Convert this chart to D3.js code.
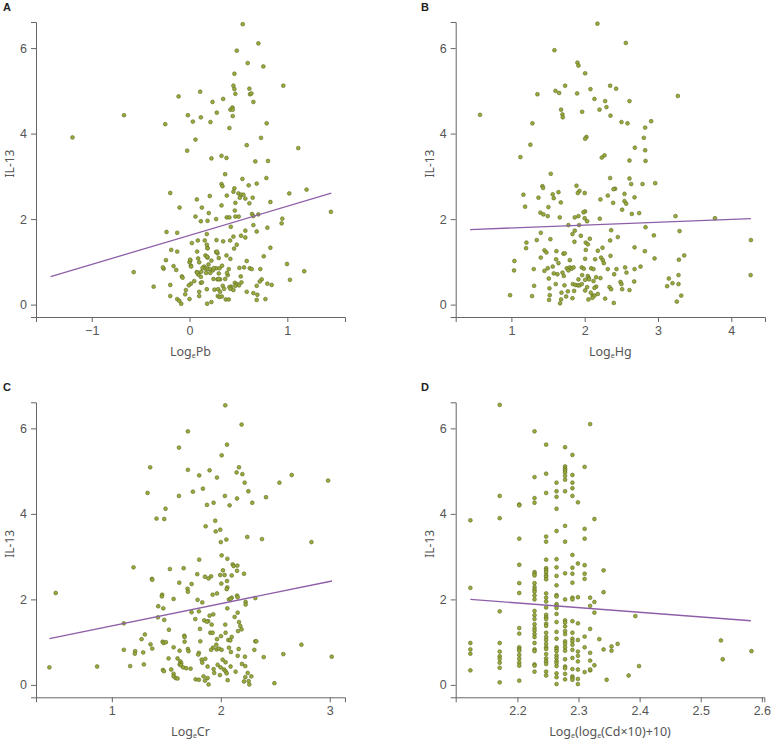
<!DOCTYPE html>
<html><head><meta charset="utf-8">
<script src="https://cdn.jsdelivr.net/npm/d3@7"></script>
<style>
html,body{margin:0;padding:0;background:#fff;}
svg{display:block;}
.tick text{font-family:"Liberation Sans",Arial,sans-serif;font-size:12.5px;fill:#555;}
.domain,.tick line{stroke:#666;}
</style></head>
<body>
<svg id="c" width="771" height="740"></svg>
<script>
// ---- Data: Panel A (Log_e Pb vs IL-13)
const pbX = [0.544,0.704,0.483,0.595,0.755,0.459,0.959,0.449,0.459,0.612,0.469,0.619,0.633,0.109,-0.112,0.344,0.235,0.653,0.439,0.418,0.442,0.279,-0.670,-0.017,0.116,0.442,0.034,-0.248,0.214,0.789,0.408,-1.197,0.061,0.731,0.585,1.112,-0.024,0.224,0.327,0.378,0.673,0.803,0.364,0.541,0.786,0.327,0.337,0.687,0.605,0.459,0.449,-0.197,0.500,0.527,0.551,0.381,0.207,1.020,1.197,0.075,0.514,0.571,0.646,0.469,0.612,0.827,0.327,-0.102,0.126,0.463,0.197,0.639,0.704,0.061,0.381,0.408,0.469,0.503,0.653,0.116,0.184,0.272,0.949,0.942,0.653,0.422,0.796,-0.235,-0.126,0.177,0.571,0.687,0.449,0.527,0.571,0.024,0.085,0.156,0.276,0.344,0.415,0.177,0.483,-0.187,-0.126,0.184,0.456,0.827,0.078,0.272,0.286,0.163,0.378,0.759,0.088,0.184,0.299,0.418,-0.241,0.007,0.000,0.099,0.224,0.585,0.997,0.014,-0.163,0.150,0.194,0.333,-0.265,-0.272,-0.136,0.133,0.163,0.184,0.207,0.272,0.401,0.510,0.558,0.616,0.636,0.724,-0.571,0.075,0.088,0.170,0.238,1.173,0.299,-0.078,-0.071,0.245,0.286,0.313,0.524,0.391,0.116,0.738,1.027,0.048,0.014,0.116,0.531,0.718,0.796,0.840,-0.197,-0.007,-0.367,0.463,0.486,0.469,0.507,0.425,0.408,0.418,0.449,0.340,0.354,0.687,0.177,0.255,0.293,-0.037,0.313,0.585,0.653,-0.044,0.099,-0.197,0.099,0.289,0.306,0.330,0.694,-0.126,-0.105,0.000,0.371,0.401,0.687,0.776,-0.085,0.180,0.224,1.446,0.092,0.076,0.120,0.212,0.246,0.307,0.383,0.365,0.297,0.127,0.007,0.017,0.280,0.184,0.181];
const pbY = [6.56,6.11,5.94,5.65,5.57,5.40,5.12,5.12,5.04,5.05,4.93,4.92,4.94,4.98,4.87,4.81,4.74,4.74,4.61,4.56,4.56,4.49,4.43,4.43,4.38,4.41,4.28,4.22,4.27,4.24,4.13,3.91,3.86,3.90,3.73,3.66,3.60,3.42,3.48,3.43,3.35,3.36,3.05,2.94,2.96,2.82,2.77,2.83,2.79,2.72,2.64,2.61,2.60,2.57,2.57,2.55,2.54,2.60,2.69,2.46,2.50,2.48,2.50,2.38,2.37,2.40,2.32,2.27,2.27,2.20,2.14,2.12,2.11,2.06,2.04,2.04,2.06,2.06,2.07,1.95,1.96,2.00,2.01,1.90,1.86,1.82,1.80,1.70,1.68,1.65,1.73,1.71,1.59,1.61,1.57,1.44,1.50,1.50,1.51,1.48,1.50,1.40,1.40,1.28,1.24,1.32,1.31,1.33,1.24,1.23,1.20,1.15,1.15,1.13,1.08,1.10,1.09,1.07,1.04,1.03,0.99,0.99,1.03,1.02,0.95,0.91,0.90,0.89,0.94,0.91,0.84,0.87,0.81,0.86,0.84,0.84,0.83,0.85,0.83,0.86,0.87,0.85,0.83,0.83,0.76,0.76,0.73,0.74,0.80,0.78,0.73,0.66,0.63,0.60,0.59,0.59,0.66,0.69,0.65,0.59,0.58,0.55,0.49,0.51,0.52,0.54,0.49,0.46,0.46,0.45,0.42,0.51,0.48,0.44,0.45,0.42,0.41,0.37,0.34,0.44,0.37,0.44,0.36,0.35,0.36,0.34,0.30,0.30,0.27,0.24,0.30,0.20,0.20,0.20,0.18,0.19,0.23,0.13,0.09,0.13,0.12,0.12,0.11,0.13,0.02,0.02,0.06,2.17,0.70,0.75,0.77,0.74,0.85,0.85,0.74,0.60,0.60,0.52,1.05,0.89,1.24,1.32,1.12];
const pbFit = {x0:-1.42, y0:0.655, x1:1.45, y1:2.605};

// ---- Data: Panel B (Log_e Hg vs IL-13)
const hgX = [2.174,2.561,1.587,1.901,1.915,2.006,1.733,2.347,2.429,2.079,1.601,1.651,1.897,1.355,3.271,2.133,2.611,2.279,2.297,2.202,1.678,1.696,1.701,1.965,2.352,0.572,2.907,2.502,2.584,1.287,2.825,2.024,2.006,2.807,1.259,2.684,2.825,2.270,2.233,1.123,2.611,2.830,1.537,2.347,2.611,2.962,2.789,2.634,1.423,1.432,1.888,2.415,2.393,1.929,1.906,1.642,2.000,1.164,1.564,2.543,2.315,1.578,1.369,2.680,2.215,2.543,2.566,1.674,2.388,1.505,1.187,2.511,2.005,1.983,1.396,1.437,2.643,2.743,1.496,1.915,1.660,1.865,3.239,2.000,2.206,3.777,2.033,1.924,1.778,2.830,1.865,2.361,3.294,1.401,1.833,2.944,1.947,2.452,2.070,1.532,1.346,2.347,4.268,1.860,2.015,2.042,1.205,1.200,2.243,2.680,2.179,2.015,1.451,1.478,1.614,2.821,1.710,1.728,3.358,2.352,1.401,2.224,2.953,2.142,2.247,2.006,3.285,1.610,1.041,1.797,1.642,2.261,2.762,1.756,1.797,1.820,1.847,1.960,1.988,2.088,2.120,1.564,1.496,1.305,2.315,2.434,2.552,2.680,1.036,1.451,1.697,1.778,1.578,2.570,1.628,1.715,1.965,2.042,3.280,2.402,4.264,1.510,2.056,2.156,2.215,1.915,3.148,2.005,2.060,2.120,2.675,2.488,2.502,3.198,1.605,1.724,1.838,1.874,1.906,1.929,1.960,3.280,2.156,1.310,3.125,1.519,2.133,2.033,2.338,2.611,2.511,2.361,2.006,1.856,1.770,2.083,1.683,2.110,2.133,0.982,1.282,1.523,1.747,3.317,2.179,1.833,2.051,2.106,2.279,1.514,1.678,3.257,1.664,2.397];
const hgY = [6.57,6.12,5.95,5.66,5.59,5.41,5.12,5.12,5.05,5.04,5.00,4.95,4.94,4.92,4.88,4.81,4.76,4.76,4.62,4.56,4.56,4.45,4.38,4.51,4.42,4.44,4.29,4.27,4.24,4.24,4.14,3.92,3.88,3.90,3.74,3.67,3.61,3.49,3.44,3.45,3.37,3.36,3.06,2.96,2.95,2.84,2.82,2.82,2.77,2.73,2.78,2.71,2.70,2.66,2.61,2.63,2.61,2.57,2.58,2.59,2.55,2.49,2.50,2.51,2.46,2.42,2.36,2.39,2.38,2.28,2.29,2.22,2.18,2.16,2.15,2.11,2.12,2.14,2.07,2.07,2.04,2.04,2.07,2.02,2.01,2.02,1.95,1.86,1.86,1.81,1.73,1.74,1.72,1.68,1.65,1.62,1.61,1.58,1.54,1.53,1.51,1.50,1.51,1.47,1.45,1.41,1.45,1.32,1.33,1.34,1.26,1.28,1.27,1.22,1.25,1.25,1.19,1.20,1.15,1.14,1.10,1.10,1.08,1.06,1.04,1.07,1.05,1.06,1.02,1.04,0.97,0.97,0.89,0.85,0.87,0.84,0.87,0.87,0.84,0.85,0.83,0.89,0.85,0.83,0.83,0.83,0.87,0.83,0.80,0.79,0.75,0.80,0.73,0.75,0.71,0.67,0.69,0.67,0.69,0.71,0.69,0.61,0.62,0.64,0.62,0.59,0.61,0.58,0.59,0.55,0.54,0.53,0.48,0.50,0.48,0.45,0.48,0.46,0.45,0.45,0.48,0.48,0.42,0.44,0.43,0.38,0.39,0.41,0.41,0.34,0.36,0.36,0.33,0.32,0.31,0.28,0.28,0.21,0.21,0.22,0.20,0.22,0.19,0.21,0.25,0.15,0.12,0.16,0.14,0.11,0.12,0.07,0.03,0.04];
const hgFit = {x0:0.436, y0:1.755, x1:4.268, y1:2.01};

// ---- Data: Panel C (Log_e Cr vs IL-13)
const crX = [2.041,2.191,1.698,2.057,1.616,2.008,1.352,2.167,1.698,1.897,2.145,2.198,1.802,2.651,1.965,2.985,2.219,2.538,1.836,1.744,2.253,1.328,1.616,2.038,2.149,2.415,1.934,1.873,2.081,2.289,1.493,1.410,1.481,1.949,1.861,1.995,1.953,2.243,2.378,2.051,2.000,2.832,2.008,2.060,1.802,2.109,2.152,2.118,1.199,1.659,1.533,2.020,2.149,1.784,2.213,1.995,2.035,2.100,1.855,1.911,1.888,1.368,1.371,2.057,1.619,2.005,1.732,2.060,1.695,2.054,1.698,1.965,1.925,1.462,1.459,2.149,2.155,0.485,1.567,2.317,2.100,2.075,2.090,1.787,2.228,2.228,1.830,1.426,1.472,2.060,1.799,1.732,2.155,1.931,1.897,1.423,2.127,1.766,1.848,1.481,1.884,1.871,2.167,1.916,2.041,1.110,2.179,2.191,1.524,1.809,2.158,1.904,1.925,2.044,1.303,1.665,1.668,2.100,2.002,1.965,1.273,2.069,2.087,2.317,2.326,1.812,1.466,1.668,1.475,1.496,1.355,2.740,1.959,1.928,1.567,1.911,1.962,1.983,2.008,2.075,2.164,2.308,1.110,1.371,1.698,1.704,1.622,1.214,1.211,1.288,1.799,1.793,2.093,2.574,2.222,2.394,3.018,2.155,1.603,1.824,1.858,2.017,2.044,1.628,1.521,1.637,1.622,1.294,1.830,2.194,1.634,1.879,1.971,2.090,2.225,1.168,0.865,0.427,1.655,1.683,1.723,1.934,1.998,2.029,1.469,1.478,2.044,2.054,2.247,2.136,1.545,1.567,1.940,1.992,1.567,1.585,1.603,1.842,1.879,2.225,2.280,1.769,1.855,2.213,2.256,2.063,1.888,2.262,2.492,1.799];
const crY = [6.54,6.09,5.93,5.62,5.55,5.37,5.09,5.09,5.03,5.02,4.97,4.93,4.90,4.91,4.85,4.78,4.73,4.73,4.59,4.52,4.53,4.49,4.42,4.42,4.36,4.39,4.26,4.21,4.20,4.26,4.12,3.89,3.88,3.84,3.71,3.63,3.59,3.46,3.41,3.40,3.34,3.34,3.03,2.95,2.93,2.82,2.79,2.78,2.75,2.73,2.71,2.68,2.67,2.59,2.60,2.57,2.57,2.56,2.53,2.54,2.49,2.48,2.46,2.43,2.39,2.37,2.36,2.28,2.25,2.24,2.18,2.14,2.11,2.11,2.07,2.09,2.05,2.15,2.01,2.03,2.04,2.00,2.01,1.99,1.94,1.88,1.93,1.84,1.79,1.79,1.72,1.70,1.69,1.65,1.62,1.58,1.59,1.54,1.51,1.52,1.49,1.48,1.47,1.41,1.41,1.44,1.38,1.30,1.29,1.31,1.26,1.22,1.22,1.22,1.18,1.15,1.12,1.12,1.14,1.07,1.07,1.05,1.04,1.02,1.02,1.02,1.01,1.01,0.98,1.00,0.95,0.94,0.94,0.87,0.88,0.82,0.83,0.85,0.82,0.87,0.84,0.82,0.82,0.85,0.84,0.79,0.80,0.79,0.73,0.76,0.75,0.71,0.77,0.72,0.66,0.65,0.66,0.68,0.62,0.59,0.61,0.59,0.53,0.55,0.62,0.51,0.48,0.48,0.52,0.49,0.46,0.43,0.47,0.43,0.44,0.44,0.43,0.41,0.41,0.39,0.38,0.37,0.41,0.36,0.35,0.32,0.32,0.27,0.28,0.31,0.36,0.26,0.28,0.23,0.20,0.16,0.15,0.20,0.16,0.18,0.20,0.13,0.10,0.08,0.09,0.11,0.01,0.01,0.04,0.12];
const crFit = {x0:0.427, y0:1.08, x1:3.021, y1:2.43};

// ---- Data: Panel D (Log_e(log_e(Cd×10)+10) vs IL-13), grouped by x column
const cdCols = [2.123,2.171,2.203,2.228,2.247,2.264,2.278,2.290,2.299,2.310,2.319,2.326,2.334,2.341,2.346,2.354,2.364,2.382,2.393,2.399,2.533,2.536,2.583];
const cdVals = [
 [3.85,2.27,0.98,0.83,0.73,0.34],
 [6.55,4.42,3.90,1.72,0.98,0.78,0.67,0.61,0.52,0.40,0.06],
 [4.22,4.20,3.42,2.81,2.38,2.15,1.33,1.20,0.88,0.83,0.80,0.70,0.61,0.52,0.45,0.10],
 [5.93,4.86,4.37,4.26,2.64,2.60,2.56,2.38,2.29,2.23,2.18,2.09,2.00,1.73,1.63,1.54,1.42,1.33,1.27,1.19,1.12,0.98,0.83,0.79,0.48,0.45,0.31],
 [5.62,4.94,4.49,3.47,3.35,2.93,2.73,2.69,2.64,2.57,2.53,2.47,2.14,2.04,1.95,1.81,1.64,1.58,1.54,1.43,1.38,1.22,1.12,1.05,0.96,0.88,0.84,0.72,0.62,0.55,0.49,0.31,0.22],
 [4.73,4.53,4.40,4.12,3.60,2.94,2.75,2.55,2.33,2.10,2.07,1.89,1.85,1.80,1.66,1.47,1.24,1.08,0.88,0.84,0.79,0.69,0.63,0.56,0.51,0.44,0.27,0.18,0.02],
 [5.56,5.11,5.06,5.02,4.97,4.89,4.80,4.53,3.72,3.35,2.61,2.00,1.51,1.46,1.37,1.26,1.19,1.02,0.96,0.88,0.80,0.60,0.43,0.39,0.26,0.13],
 [5.38,4.91,4.73,4.60,4.42,3.04,2.74,2.60,2.39,2.04,2.00,1.49,1.22,1.08,1.02,0.94,0.82,0.63,0.37,0.20,0.16,0.12],
 [4.27,2.84,2.05,1.44,1.05,0.78,0.68,0.55,0.36,0.14,0.02],
 [5.10,3.65,3.42,2.80,2.60,2.48,1.13,0.88,0.30],
 [6.10,2.04,1.85,1.31,0.75,0.57,0.34,0.36],
 [3.88,1.94,1.69,0.46],
 [1.07],
 [2.68,2.17,0.83],
 [0.12],
 [0.90,0.80],
 [0.96],
 [0.22],
 [1.61],
 [0.44],
 [1.04],
 [0.60],
 [0.79]
];
const cdFit = {x0:2.123, y0:2.00, x1:2.582, y1:1.50};

// ---- Axis ticks
const yTicks = [0,2,4,6];
const pbTicks = [-1,0,1];
const hgTicks = [1,2,3,4];
const crTicks = [1,2,3];
const cdTicks = [2.2,2.3,2.4,2.5,2.6];

const cdX = [], cdY = [];
cdCols.forEach((c,i)=>cdVals[i].forEach(v=>{cdX.push(c);cdY.push(v);}));

const intFmt = d=>d<0?"\u2212"+Math.abs(d):String(d);
const panels = [
 {letter:"A", xs:pbX, ys:pbY, fit:pbFit, xd:[-1.57,1.59], ticks:pbTicks, fmt:intFmt,
  title:[["Log",""],["e","sub"],["Pb",""]], box:{l:36,r:345,t:22,b:317}, lab:{x:3,y:11}},
 {letter:"B", xs:hgX, ys:hgY, fit:hgFit, xd:[0.24,4.46], ticks:hgTicks, fmt:intFmt,
  title:[["Log",""],["e","sub"],["Hg",""]], box:{l:455.7,r:765,t:22,b:317}, lab:{x:421,y:11}},
 {letter:"C", xs:crX, ys:crY, fit:crFit, xd:[0.304,3.14], ticks:crTicks, fmt:intFmt,
  title:[["Log",""],["e","sub"],["Cr",""]], box:{l:36,r:345,t:402.3,b:697.3}, lab:{x:3,y:391}},
 {letter:"D", xs:cdX, ys:cdY, fit:cdFit, xd:[2.099,2.604], ticks:cdTicks, fmt:d3.format(".1f"),
  title:[["Log",""],["e","sub"],["(log",""],["e","sub"],["(Cd\u00d710)+10)",""]], box:{l:455.7,r:764.3,t:402.3,b:697.3}, lab:{x:421,y:391}}
];

const svg = d3.select("#c");

panels.forEach(p=>{
  const x = d3.scaleLinear().domain(p.xd).range([p.box.l,p.box.r]);
  const y = d3.scaleLinear().domain([-0.29,6.61]).range([p.box.b,p.box.t]);
  const g = svg.append("g");

  g.append("g").attr("transform",`translate(0,${p.box.b})`)
   .call(d3.axisBottom(x).tickValues(p.ticks).tickFormat(p.fmt).tickSizeOuter(0).tickSize(5).tickPadding(4));
  g.append("g").attr("transform",`translate(${p.box.l},0)`)
   .call(d3.axisLeft(y).tickValues(yTicks).tickFormat(intFmt).tickSizeOuter(0).tickSize(5).tickPadding(4));

  const pts = p.xs.map((v,i)=>[v,p.ys[i]]);
  g.append("g").selectAll("circle").data(pts).join("circle")
   .attr("cx",d=>x(d[0])).attr("cy",d=>y(d[1])).attr("r",1.9)
   .attr("fill","#9aaa3c").attr("stroke","#5d6b22").attr("stroke-width",0.6);

  g.append("line")
   .attr("x1",x(p.fit.x0)).attr("y1",y(p.fit.y0))
   .attr("x2",x(p.fit.x1)).attr("y2",y(p.fit.y1))
   .attr("stroke","#8e5fa8").attr("stroke-width",1.3);

  // x title with subscripts
  const t = g.append("text").attr("x",(p.box.l+p.box.r)/2).attr("y",p.box.b+39)
    .attr("text-anchor","middle").attr("font-family","'Noto Sans',sans-serif").attr("font-size",12.5).attr("fill","#555");
  p.title.forEach(([s,k],i)=>{
    const ts = t.append("tspan").text(s);
    if(k==="sub") ts.attr("font-size",7).attr("dy",2);
    else if(i>0 && p.title[i-1][1]==="sub") ts.attr("dy",-2);
  });

  // y title
  svg.append("text").attr("transform",`translate(${p.box.l-22},${(p.box.t+p.box.b)/2-6}) rotate(-90)`)
    .attr("text-anchor","middle").attr("font-family","'Noto Sans',sans-serif").attr("font-size",12).attr("fill","#555").text("IL-13");

  // panel letter
  svg.append("text").attr("x",p.lab.x).attr("y",p.lab.y).attr("font-family","'Liberation Sans',Arial,sans-serif")
    .attr("font-weight","bold").attr("font-size",11).attr("fill","#222").text(p.letter);
});
</script>
</body></html>
